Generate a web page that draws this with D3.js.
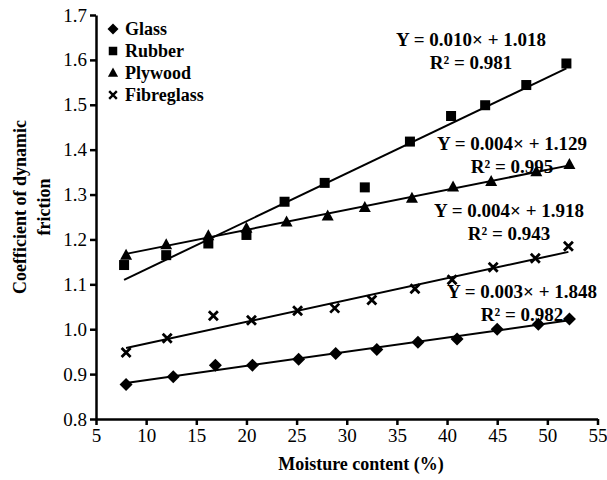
<!DOCTYPE html>
<html>
<head>
<meta charset="utf-8">
<script src="https://cdn.jsdelivr.net/npm/d3@7"></script>
<style>
  body { margin: 0; background: #fff; }
  svg { display: block; }
  text { font-family: "Liberation Serif", "Times New Roman", serif; font-weight: bold; fill: #000; }
  .axis path, .axis line { stroke: #000; stroke-width: 2.5; }
  .axis text { font-size: 19px; font-weight: normal; }
  .trend { fill: none; stroke: #000; stroke-width: 2; }
</style>
</head>
<body>
<div class="container"></div>
<script>
// ---------- DATA ----------
var seriesNames = ["Glass", "Rubber", "Plywood", "Fibreglass"]

var glassX = [8.0, 12.7, 16.9, 20.6, 25.2, 28.9, 33.0, 37.1, 41.0, 45.0, 49.1, 52.2]
var glassY = [0.877, 0.894, 0.920, 0.920, 0.933, 0.946, 0.955, 0.971, 0.978, 1.000, 1.011, 1.023]

var rubberX = [7.8, 12.0, 16.2, 20.0, 23.8, 27.8, 31.8, 36.3, 40.4, 43.8, 47.9, 51.9]
var rubberY = [1.143, 1.165, 1.191, 1.210, 1.284, 1.326, 1.316, 1.418, 1.475, 1.499, 1.544, 1.592]

var plywoodX = [8.0, 12.0, 16.2, 20.0, 24.0, 28.1, 31.8, 36.5, 40.6, 44.4, 48.9, 52.2]
var plywoodY = [1.165, 1.188, 1.208, 1.225, 1.239, 1.252, 1.271, 1.292, 1.317, 1.329, 1.351, 1.367]

var fibreX = [8.0, 12.1, 16.7, 20.5, 25.1, 28.8, 32.5, 36.8, 40.5, 44.6, 48.8, 52.1]
var fibreY = [0.948, 0.980, 1.030, 1.020, 1.041, 1.047, 1.065, 1.090, 1.110, 1.138, 1.158, 1.185]

// equation labels as printed on the chart
var equations = ["Y = 0.003\u00d7 + 1.848", "Y = 0.010\u00d7 + 1.018", "Y = 0.004\u00d7 + 1.129", "Y = 0.004\u00d7 + 1.918"]
var rSquared = ["R\u00b2 = 0.982", "R\u00b2 = 0.981", "R\u00b2 = 0.995", "R\u00b2 = 0.943"]

var xTicks = [5, 10, 15, 20, 25, 30, 35, 40, 45, 50, 55]
var yTicks = [0.8, 0.9, 1.0, 1.1, 1.2, 1.3, 1.4, 1.5, 1.6, 1.7]

// ---------- LAYOUT ----------
var width = 607,
    height = 480;

var margin = { top: 15, right: 9.5, bottom: 61, left: 96 }

var svg = d3.select(".container").append("svg")
    .attr("width", width)
    .attr("height", height);

var x = d3.scaleLinear().domain([5, 55]).range([margin.left, width - margin.right])
var y = d3.scaleLinear().domain([0.8, 1.7]).range([height - margin.bottom, margin.top])

var series = [
  { name: seriesNames[0], shape: "diamond", xs: glassX, ys: glassY },
  { name: seriesNames[1], shape: "square", xs: rubberX, ys: rubberY },
  { name: seriesNames[2], shape: "triangle", xs: plywoodX, ys: plywoodY },
  { name: seriesNames[3], shape: "cross", xs: fibreX, ys: fibreY }
]

// where each equation block sits (centre x, first baseline), in pixels
var labelPos = [[522, 298], [471, 46], [512, 150], [509, 217]]

// ---------- MARKERS ----------
function marker(g, shape) {
  if (shape == "diamond") {
    g.append("path").attr("d", "M0,-6.5L6.5,0L0,6.5L-6.5,0Z")
  } else if (shape == "square") {
    g.append("rect").attr("x", -5).attr("y", -5).attr("width", 10).attr("height", 10)
  } else if (shape == "triangle") {
    g.append("path").attr("d", "M0,-6.5L6,4.5L-6,4.5Z")
  } else {
    g.append("path").attr("d", "M-4.5,-4.5L4.5,4.5M4.5,-4.5L-4.5,4.5")
      .attr("stroke", "#000").attr("stroke-width", 2.8).attr("fill", "none")
  }
}

// least squares fit, same as the spreadsheet trendline
function fit(xs, ys) {
  var mx = d3.mean(xs), my = d3.mean(ys)
  var sxy = d3.sum(xs, function(v, i) { return (v - mx) * (ys[i] - my) })
  var sxx = d3.sum(xs, function(v) { return (v - mx) * (v - mx) })
  var b = sxy / sxx
  return { b: b, a: my - b * mx }
}

// ---------- AXES ----------
svg.append("g")
  .attr("class", "axis")
  .attr("transform", "translate(0," + y(0.8) + ")")
  .call(d3.axisBottom(x).tickValues(xTicks).tickSize(6).tickSizeOuter(0).tickPadding(4))
  .selectAll("text").attr("fill", "#000")

svg.append("g")
  .attr("class", "axis")
  .attr("transform", "translate(" + x(5) + ",0)")
  .call(d3.axisLeft(y).tickValues(yTicks).tickFormat(d3.format(".1f")).tickSize(6).tickSizeOuter(0).tickPadding(3))
  .selectAll("text").attr("fill", "#000")

// axis titles
svg.append("text")
  .attr("x", 361)
  .attr("y", 470)
  .attr("text-anchor", "middle")
  .style("font-size", "18px")
  .text("Moisture content (%)")

var yTitle = svg.append("text")
  .attr("transform", "translate(26,207) rotate(-90)")
  .attr("text-anchor", "middle")
  .style("font-size", "18px")
yTitle.append("tspan").attr("x", 0).attr("y", 0).text("Coefficient of dynamic")
yTitle.append("tspan").attr("x", 0).attr("y", 24).text("friction")

// ---------- SERIES ----------
series.forEach(function(s, i) {
  var f = fit(s.xs, s.ys)
  var x0 = d3.min(s.xs), x1 = d3.max(s.xs)

  svg.append("line")
    .attr("class", "trend")
    .attr("x1", x(x0)).attr("y1", y(f.a + f.b * x0))
    .attr("x2", x(x1)).attr("y2", y(f.a + f.b * x1))

  svg.append("g")
    .selectAll("g")
    .data(s.xs)
    .enter().append("g")
    .attr("transform", function(d, j) { return "translate(" + x(d) + "," + y(s.ys[j]) + ")" })
    .each(function() { marker(d3.select(this), s.shape) })

  var lbl = svg.append("text")
    .attr("text-anchor", "middle")
    .style("font-size", "19px")
  lbl.append("tspan").attr("x", labelPos[i][0]).attr("y", labelPos[i][1]).text(equations[i])
  lbl.append("tspan").attr("x", labelPos[i][0]).attr("y", labelPos[i][1] + 23).text(rSquared[i])
})

// ---------- LEGEND ----------
var legend = svg.append("g")
  .selectAll("g")
  .data(series)
  .enter().append("g")
  .attr("transform", function(d, i) { return "translate(113," + (29 + i * 22) + ")" })

legend.each(function(d) {
  var g = d3.select(this).append("g").attr("transform", "scale(0.85)")
  marker(g, d.shape)
})

legend.append("text")
  .attr("x", 12)
  .attr("y", 6)
  .style("font-size", "18px")
  .text(function(d) { return d.name })
</script>
</body>
</html>
